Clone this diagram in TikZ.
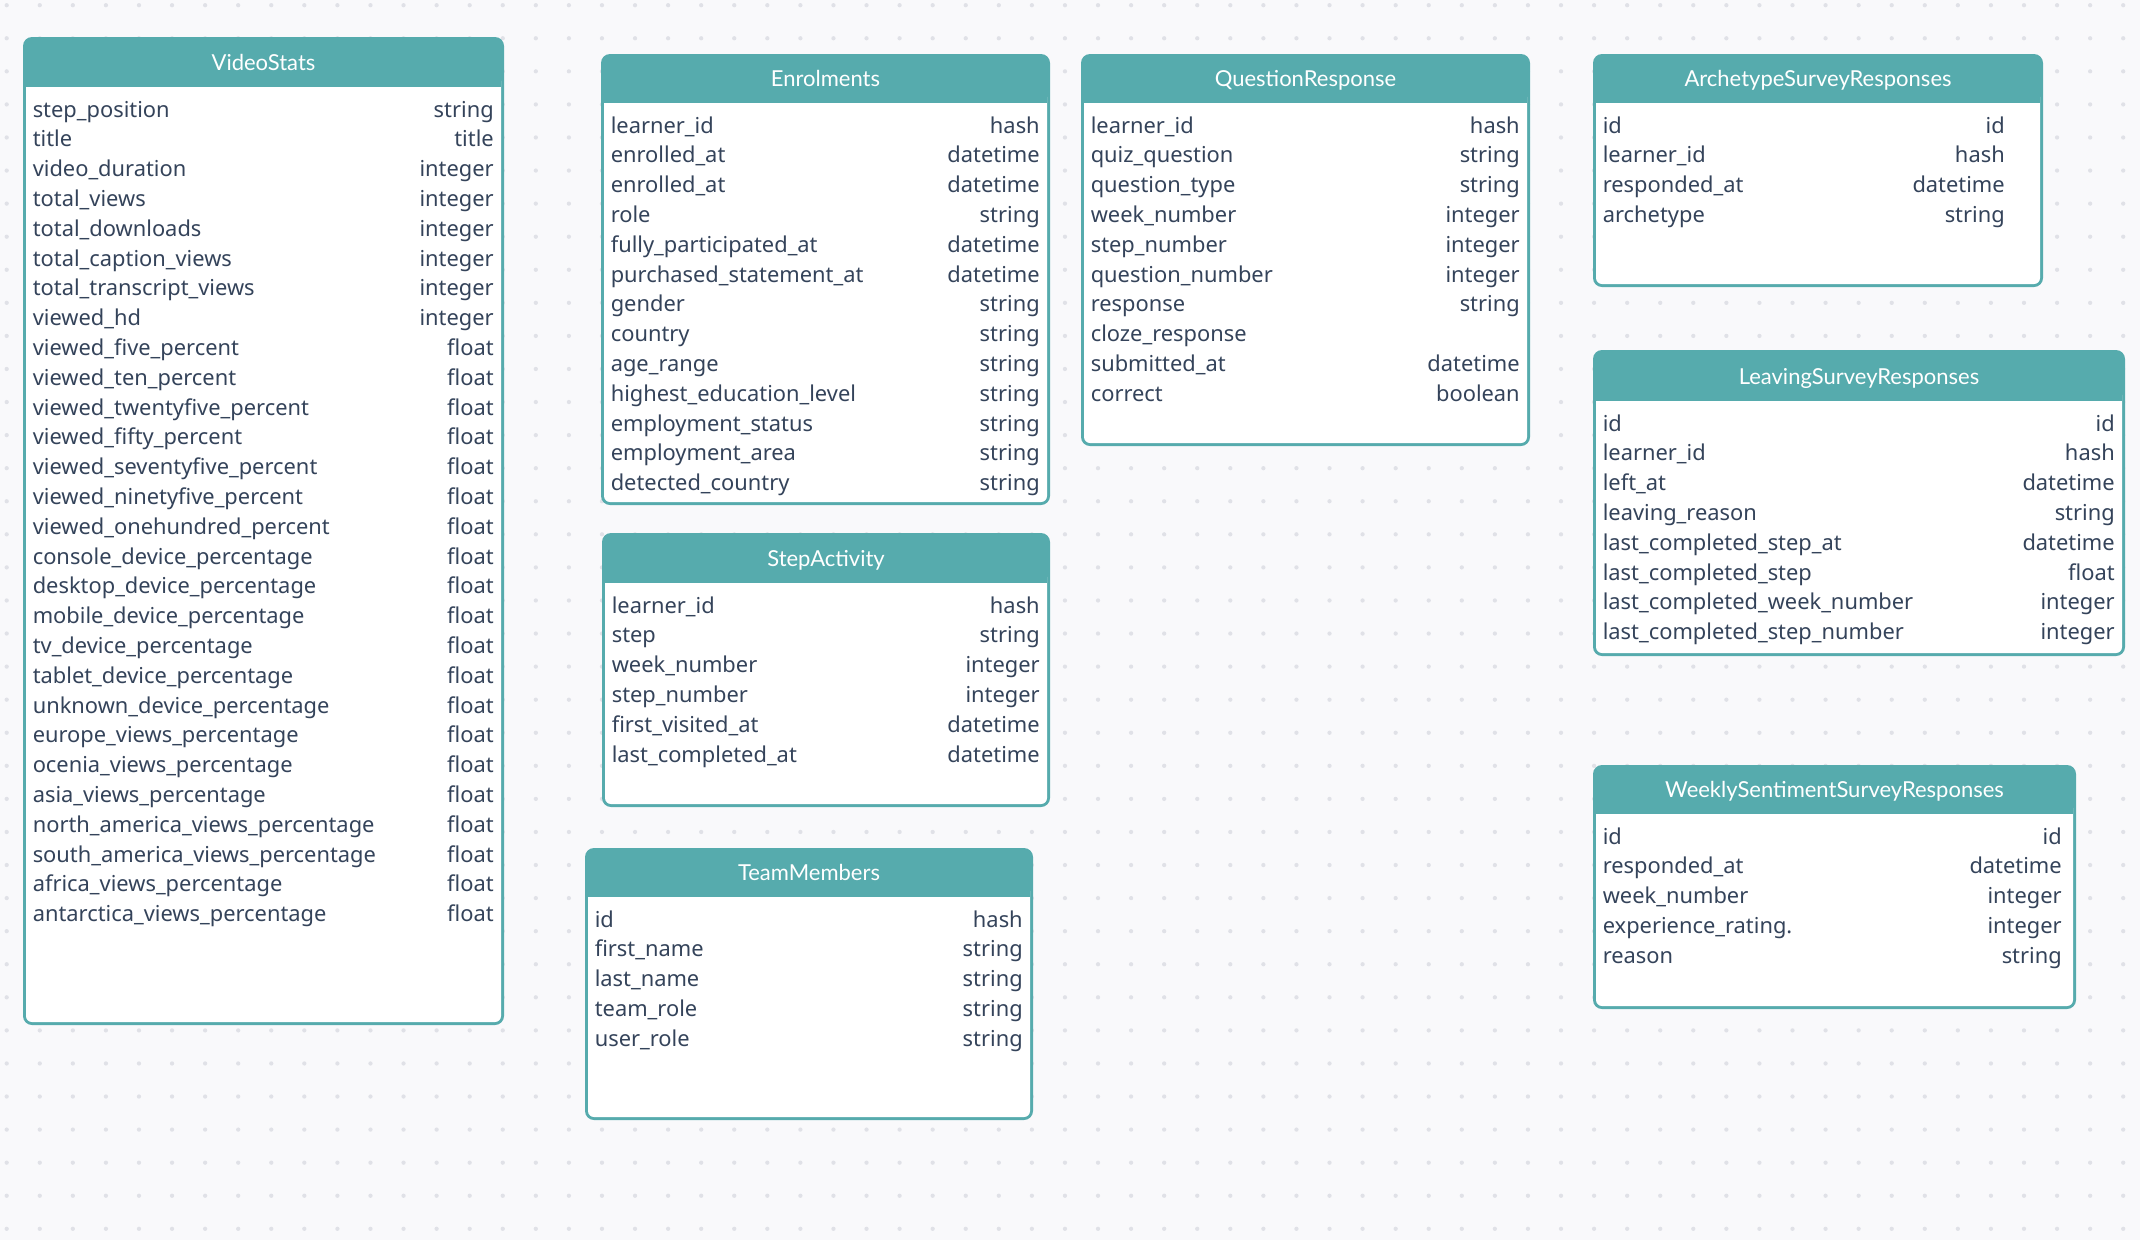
\documentclass[tikz,border=0pt]{standalone}
\usepackage{fontspec}
\setmainfont{Noto Sans}
\newfontfamily\titlefont{Lato}
\definecolor{hdr}{HTML}{56ABAD}
\definecolor{txt}{HTML}{34435A}
\definecolor{bgc}{HTML}{F9F9FB}
\definecolor{dotc}{HTML}{E0E1E7}
\tikzset{
  fieldtext/.style={inner sep=0pt, text=txt, font=\fontsize{16.4pt}{19pt}\selectfont},
  titletext/.style={inner sep=0pt, text=white, font=\titlefont\fontsize{16.5pt}{19pt}\selectfont},
}
\newcommand\tablebox[9]{%
  \fill[hdr, rounded corners=6.75pt] (#2,#3) rectangle (#4,#5);
  \fill[white, rounded corners=4.5pt] (#2+3,#6-12) rectangle (#4-3,#5-3);
  \fill[hdr] (#2+3,#6-14) rectangle (#4-3,#6);
  \node[titletext, anchor=base] (#1-title) at ({(#2+#4)/2},#6-17) {#8};
  \foreach \fname/\ftype [count=\i] in {#9} {
    \node[fieldtext, anchor=base west] (#1-f\i) at (#2+9.5,{#6+30+(\i-1)*29.8}) {\fname};
    \node[fieldtext, anchor=base east] (#1-t\i) at (#7,{#6+30+(\i-1)*29.8}) {\ftype};
  }
}
\begin{document}
\begin{tikzpicture}[x=0.75pt,y=-0.75pt]
\fill[bgc] (0,0) rectangle (2140,1240);
\useasboundingbox (0,0) rectangle (2140,1240);
\foreach \gx in {0,...,64} \foreach \gy in {0,...,37}
  \fill[dotc] (6.7+\gx*33.07,5.2+\gy*33.07) circle (1.6pt);

\tablebox{vs}{23}{37}{504}{1025}{87}{494}{VideoStats}{
step\_position/string, title/title, video\_duration/integer, total\_views/integer,
total\_downloads/integer, total\_caption\_views/integer, total\_transcript\_views/integer,
viewed\_hd/integer, viewed\_five\_percent/float, viewed\_ten\_percent/float,
viewed\_twentyfive\_percent/float, viewed\_fifty\_percent/float,
viewed\_seventyfive\_percent/float, viewed\_ninetyfive\_percent/float,
viewed\_onehundred\_percent/float, console\_device\_percentage/float,
desktop\_device\_percentage/float, mobile\_device\_percentage/float,
tv\_device\_percentage/float, tablet\_device\_percentage/float,
unknown\_device\_percentage/float, europe\_views\_percentage/float,
ocenia\_views\_percentage/float, asia\_views\_percentage/float,
north\_america\_views\_percentage/float, south\_america\_views\_percentage/float,
africa\_views\_percentage/float, antarctica\_views\_percentage/float}

\tablebox{en}{601}{54}{1050}{505}{103}{1040}{Enrolments}{
learner\_id/hash, enrolled\_at/datetime, enrolled\_at/datetime, role/string,
fully\_participated\_at/datetime, purchased\_statement\_at/datetime, gender/string,
country/string, age\_range/string, highest\_education\_level/string,
employment\_status/string, employment\_area/string, detected\_country/string}

\tablebox{qr}{1081}{54}{1530}{446}{103}{1520}{QuestionResponse}{
learner\_id/hash, quiz\_question/string, question\_type/string, week\_number/integer,
step\_number/integer, question\_number/integer, response/string, cloze\_response/,
submitted\_at/datetime, correct/boolean}

\tablebox{ar}{1593}{54}{2043}{287}{103}{2005}{ArchetypeSurveyResponses}{
id/id, learner\_id/hash, responded\_at/datetime, archetype/string}

\tablebox{ls}{1593}{350}{2125}{656}{401}{2115}{LeavingSurveyResponses}{
id/id, learner\_id/hash, left\_at/datetime, leaving\_reason/string,
last\_completed\_step\_at/datetime, last\_completed\_step/float,
last\_completed\_week\_number/integer, last\_completed\_step\_number/integer}

\tablebox{ws}{1593}{765}{2076}{1009}{814}{2062}{WeeklySentimentSurveyResponses}{
id/id, responded\_at/datetime, week\_number/integer, experience\_rating./integer,
reason/string}

\tablebox{sa}{602}{533}{1050}{807}{583}{1040}{StepActivity}{
learner\_id/hash, step/string, week\_number/integer, step\_number/integer,
first\_visited\_at/datetime, last\_completed\_at/datetime}

\tablebox{tm}{585}{848}{1033}{1120}{897}{1023}{TeamMembers}{
id/hash, first\_name/string, last\_name/string, team\_role/string, user\_role/string}
\end{tikzpicture}
\end{document}
